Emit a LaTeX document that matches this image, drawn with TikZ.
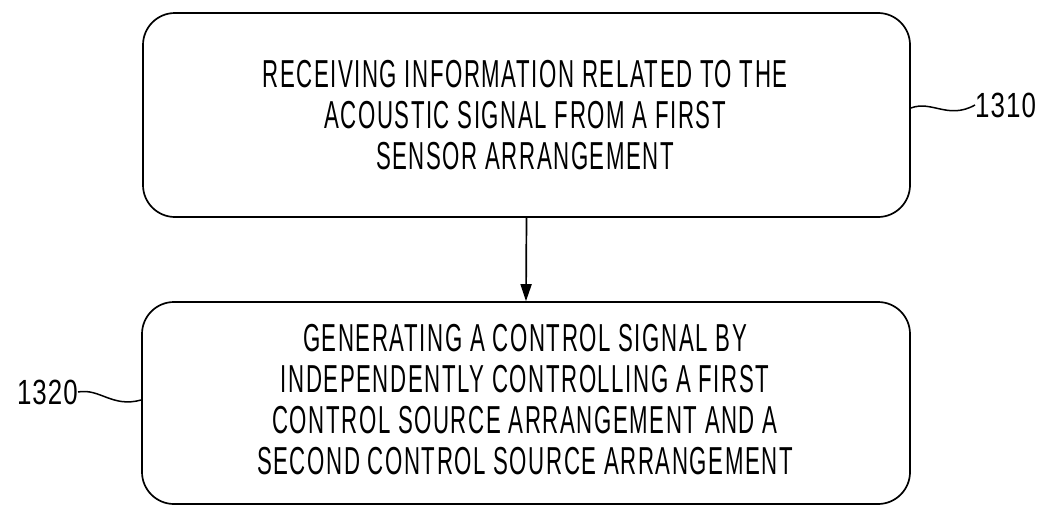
\documentclass[tikz,border=0pt]{standalone}
\usepackage{fontspec}
\setmainfont{Liberation Sans}[FakeStretch=0.57,LetterSpace=4]
\newfontfamily\numfont{Liberation Sans}[FakeStretch=0.74,LetterSpace=3]
\usetikzlibrary{arrows.meta}
\begin{document}
\begin{tikzpicture}[x=1pt,y=-1pt,
  stepbox/.style={draw,line width=1.7pt,rounded corners=32pt,inner sep=0pt},
  steptext/.style={align=center,font=\fontsize{39}{41}\selectfont,inner sep=0pt},
  reflabel/.style={font=\numfont\fontsize{35}{35}\selectfont,inner sep=0pt},
  leader/.style={line width=1.5pt},
  flow/.style={line width=1.7pt,-{Triangle[width=11pt,length=17pt]}}]
\useasboundingbox (0,0) rectangle (1049,506);

% process steps
\node[stepbox,minimum width=767pt,minimum height=204pt] (b1) at (526.5,115) {};
\node[steptext] (t1) at (525,115) {RECEIVING INFORMATION RELATED TO THE\\ACOUSTIC SIGNAL FROM A FIRST\\SENSOR ARRANGEMENT};

\node[stepbox,minimum width=768pt,minimum height=202pt] (b2) at (526,403) {};
\node[steptext] (t2) at (525,400) {GENERATING A CONTROL SIGNAL BY\\INDEPENDENTLY CONTROLLING A FIRST\\CONTROL SOURCE ARRANGEMENT AND A\\SECOND CONTROL SOURCE ARRANGEMENT};

% flow between steps
\draw[flow] (b1.south) -- (b2.north);

% reference numerals
\node[reflabel,anchor=west] (n1310) at (975,105) {1310};
\coordinate (l1) at (b1.east |- 0,108);
\draw[leader] (l1) .. controls (932,100) and (948,120) .. (n1310.west);

\node[reflabel,anchor=east] (n1320) at (78,392) {1320};
\coordinate (l2) at (b2.west |- 0,400);
\draw[leader] (n1320.east) .. controls (100,388) and (112,408) .. (l2);
\end{tikzpicture}
\end{document}
